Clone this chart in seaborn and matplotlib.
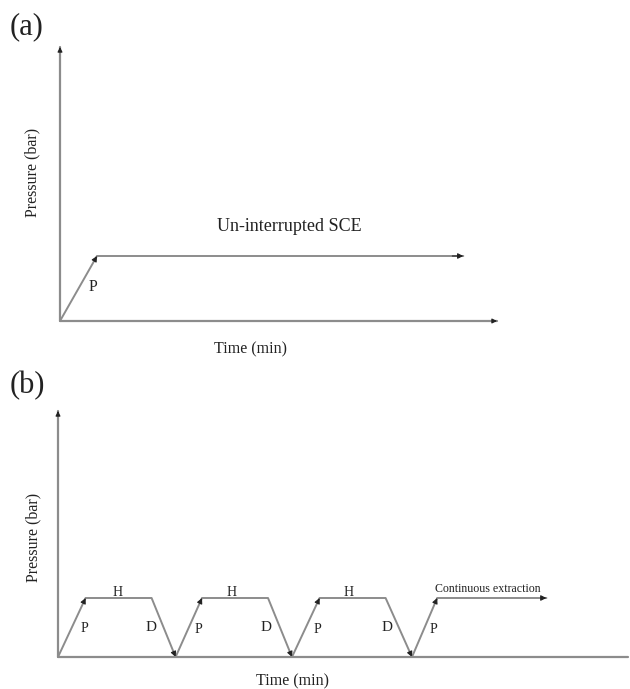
import matplotlib
matplotlib.use("Agg")
import matplotlib.pyplot as plt
import seaborn as sns
import pandas as pd
import numpy as np

sns.set_theme(style="white")
plt.rcParams['font.family'] = ['Liberation Serif', 'DejaVu Serif']

# ---- data ----
# (a) un-interrupted SCE
time_a = [0, 1, 10.9]
press_a = [0, 1, 1]
arrow_idx_a = [1, 2]

# (b) pressurise / hold / depressurise cycles then continuous extraction
time_b = [0, 2.3, 7.8, 9.8, 12.0, 17.5, 19.5, 21.8, 27.3, 29.5, 31.6, 40.7]
press_b = [0, 1, 1, 0, 1, 1, 0, 1, 1, 0, 1, 1]
arrow_idx_b = [1, 3, 4, 6, 7, 9, 10, 11]

labels_b = ["H", "H", "H", "P", "P", "P", "P", "D", "D", "D"]
label_x_b = [5.0, 14.5, 24.25, 2.2, 11.7, 21.6, 31.25, 7.75, 17.35, 27.4]
label_y_b = [1.09, 1.09, 1.09, 0.49, 0.47, 0.47, 0.47, 0.5, 0.5, 0.5]
label_fs_b = [10, 10, 10, 10, 10, 10, 10, 11, 11, 11]

W, H = 630, 689
LINE = "#8c8c8c"
HEAD = "#222222"

fig = plt.figure(figsize=(W / 100, H / 100), dpi=100)


def px_axes(left, top_px, right, bottom_px):
    return fig.add_axes([left / W, 1 - bottom_px / H, (right - left) / W, (bottom_px - top_px) / H])


def draw_profile(ax, t, p, heads):
    df = pd.DataFrame({"Time": t, "Pressure": p})
    sns.lineplot(data=df, x="Time", y="Pressure", sort=False, ax=ax,
                 color=LINE, lw=1.4, estimator=None)
    for i in heads:
        x0, y0 = t[i - 1], p[i - 1]
        x1, y1 = t[i], p[i]
        xs = x1 - (x1 - x0) * 0.03
        ys = y1 - (y1 - y0) * 0.03
        ax.annotate("", xy=(x1, y1), xytext=(xs, ys),
                    arrowprops=dict(arrowstyle="-|>", color=HEAD, lw=0.8,
                                    mutation_scale=8, shrinkA=0, shrinkB=0))


def draw_axes_arrows(ax, x_arrow=True):
    ax.set_axis_off()
    ax.annotate("", xy=(0, 1), xytext=(0, 0), xycoords="axes fraction",
                arrowprops=dict(arrowstyle="-", color=LINE, lw=1.6, shrinkA=0, shrinkB=0))
    ax.annotate("", xy=(0, 1), xytext=(0, 0.99), xycoords="axes fraction",
                arrowprops=dict(arrowstyle="-|>", color=HEAD, lw=0.8, mutation_scale=7,
                                shrinkA=0, shrinkB=0))
    ax.annotate("", xy=(1, 0), xytext=(0, 0), xycoords="axes fraction",
                arrowprops=dict(arrowstyle="-", color=LINE, lw=1.6, shrinkA=0, shrinkB=0))
    if x_arrow:
        ax.annotate("", xy=(1, 0), xytext=(0.99, 0), xycoords="axes fraction",
                    arrowprops=dict(arrowstyle="-|>", color=HEAD, lw=0.8, mutation_scale=7,
                                    shrinkA=0, shrinkB=0))


# ---- panel (a) ----
ax_a = px_axes(60, 47, 497, 321)
ax_a.set_xlim(0, 437 / 37)
ax_a.set_ylim(0, 274 / 65)
draw_profile(ax_a, time_a, press_a, arrow_idx_a)
draw_axes_arrows(ax_a, x_arrow=True)
ax_a.text(0.9, 0.52, "P", fontsize=11.5, ha="center", va="center", color="#222")
ax_a.text(6.2, 1.46, "Un-interrupted SCE", fontsize=13, ha="center", va="center", color="#222")

# ---- panel (b) ----
ax_b = px_axes(58, 411, 628, 657)
ax_b.set_xlim(0, 570 / 12)
ax_b.set_ylim(0, 246 / 59)
draw_profile(ax_b, time_b, press_b, arrow_idx_b)
draw_axes_arrows(ax_b, x_arrow=False)
for s, x, y, fs in zip(labels_b, label_x_b, label_y_b, label_fs_b):
    ax_b.text(x, y, s, fontsize=fs, ha="center", va="center", color="#222")
ax_b.text(31.4, 1.16, "Continuous extraction", fontsize=8.6, ha="left", va="center", color="#222")

# ---- text labels ----
fig.text(27 / W, 1 - 27 / H, "(a)", fontsize=22, ha="center", va="center", color="#222")
fig.text(27 / W, 1 - 386 / H, "(b)", fontsize=22, ha="center", va="center", color="#222")
fig.text(32 / W, 1 - 172 / H, "Pressure (bar)", fontsize=11.5, rotation=90,
         ha="center", va="center", color="#222")
fig.text(33 / W, 1 - 537 / H, "Pressure (bar)", fontsize=11.5, rotation=90,
         ha="center", va="center", color="#222")
fig.text(250 / W, 1 - 349 / H, "Time (min)", fontsize=11.5, ha="center", va="center", color="#222")
fig.text(292 / W, 1 - 681 / H, "Time (min)", fontsize=11.5, ha="center", va="center", color="#222")

fig.savefig("out.png", dpi=100)
